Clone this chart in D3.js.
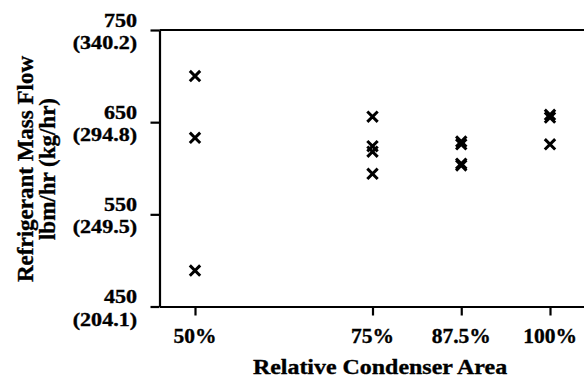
<!DOCTYPE html>
<html>
<head>
<meta charset="utf-8">
<script src="https://cdn.jsdelivr.net/npm/d3@7"></script>
<style>
  body { margin: 0; background: #fff; }
  svg text { font-family: "Liberation Serif", "Times New Roman", serif; font-weight: bold; fill: #000; stroke: #000; stroke-width: 0.35px; }
</style>
</head>
<body>
<div id="chart"></div>
<script>
// condenser area categories (%) and refrigerant mass flow readings (lbm/hr)
const areas = [50, 75, 87.5, 100];
const flow50 = [700, 633, 489];
const flow75 = [656, 624, 618, 594];
const flow875 = [629, 626, 605, 603];
const flow100 = [658, 655, 626];
const yTicks = [450, 550, 650, 750];
const yTickMetric = ["(204.1)", "(249.5)", "(294.8)", "(340.2)"];
const xTickLabels = ["50%", "75%", "87.5%", "100%"];

const points = [];
[flow50, flow75, flow875, flow100].forEach((vals, i) => {
  vals.forEach((v) => points.push({ area: areas[i], flow: v }));
});

const W = 584, H = 382;
const svg = d3.select("#chart").append("svg")
  .attr("width", W)
  .attr("height", H);

// scales
const x = d3.scaleLinear().domain([45, 105]).range([159.5, 585.5]);
const y = d3.scaleLinear().domain([450, 750]).range([306.5, 30]);

// left axis
const yAxis = svg.append("g")
  .attr("transform", "translate(" + x(45) + ",0)")
  .call(d3.axisLeft(y).tickValues(yTicks).tickSize(9).tickSizeOuter(0).tickFormat(""));
yAxis.selectAll("path, line").attr("stroke", "#000").attr("stroke-width", 2.2);

// bottom axis
const xAxis = svg.append("g")
  .attr("transform", "translate(0," + y(450) + ")")
  .call(d3.axisBottom(x).tickValues(areas).tickSize(9).tickSizeOuter(0).tickFormat(""));
xAxis.selectAll("path, line").attr("stroke", "#000").attr("stroke-width", 2.2);

// top frame line
svg.append("line")
  .attr("x1", x(45)).attr("x2", x(105))
  .attr("y1", y(750)).attr("y2", y(750))
  .attr("stroke", "#000").attr("stroke-width", 2.2);

// y tick labels, two lines each (slightly wide face)
yTicks.forEach((t, i) => {
  svg.append("text")
    .attr("transform", "translate(137," + (y(t) - 3.5) + ") scale(1.16,1)")
    .attr("text-anchor", "end")
    .style("font-size", "19px")
    .text(t);
  svg.append("text")
    .attr("transform", "translate(137," + (y(t) + 19) + ") scale(1.16,1)")
    .attr("text-anchor", "end")
    .style("font-size", "19px")
    .text(yTickMetric[i]);
});

// x tick labels
areas.forEach((a, i) => {
  svg.append("text")
    .attr("x", x(a)).attr("y", 343)
    .attr("text-anchor", "middle")
    .style("font-size", "21.5px")
    .text(xTickLabels[i]);
});

// axis titles
svg.append("text")
  .attr("transform", "translate(380,374) scale(1.14,1)")
  .attr("text-anchor", "middle")
  .style("font-size", "21px")
  .text("Relative Condenser Area");

const yTitle = svg.append("text")
  .attr("transform", "translate(0,169) rotate(-90)")
  .attr("text-anchor", "middle")
  .style("font-size", "23px");
yTitle.append("tspan").attr("x", 0).attr("y", 33).text("Refrigerant Mass Flow");
yTitle.append("tspan").attr("x", 0).attr("y", 55).text("lbm/hr (kg/hr)");

// markers
svg.selectAll(".pt")
  .data(points)
  .enter()
  .append("path")
  .attr("class", "pt")
  .attr("transform", (d) => "translate(" + x(d.area) + "," + y(d.flow) + ")")
  .attr("d", d3.symbol().type(d3.symbolTimes).size(72))
  .attr("fill", "none")
  .attr("stroke", "#000")
  .attr("stroke-width", 3);
</script>
</body>
</html>
